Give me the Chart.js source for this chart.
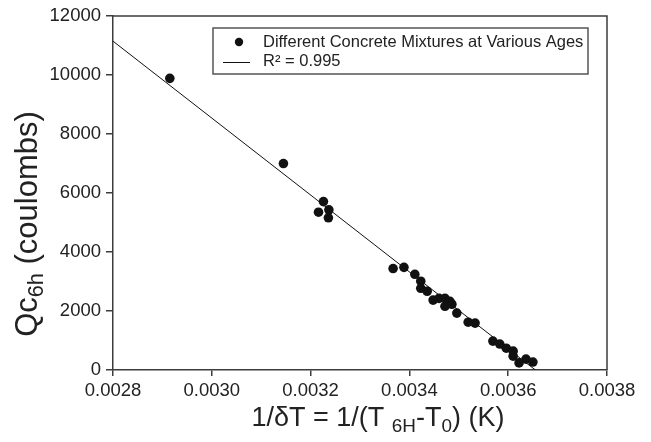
<!DOCTYPE html>
<html>
<head>
<meta charset="utf-8">
<script src="https://cdn.jsdelivr.net/npm/chart.js@4.4.0/dist/chart.umd.min.js"></script>
<style>
html, body { margin: 0; padding: 0; background: #fff; }
#wrap { width: 651px; height: 442px; }
</style>
</head>
<body>
<div id="wrap"><canvas id="grapik"></canvas></div>
<script>
// data
var xVals = [0.002915, 0.003145, 0.003226, 0.003216, 0.003237, 0.003236, 0.003367, 0.003389,
    0.003411, 0.003423, 0.003423, 0.003436, 0.003448, 0.00346, 0.003472, 0.003482, 0.003472,
    0.003486, 0.003496, 0.003519, 0.003533, 0.003569, 0.003583, 0.003596, 0.00361, 0.00361,
    0.003622, 0.003636, 0.00365];
var yVals = [9890, 7000, 5710, 5350, 5430, 5160, 3440, 3480,
    3245, 3010, 2770, 2670, 2370, 2430, 2430, 2330, 2160,
    2230, 1930, 1620, 1590, 980, 880, 740, 640, 470,
    240, 370, 270];

// regression line end points
var fitX = [0.0028, 0.003655];
var fitY = [11150, 0];

var xTicks = [0.0028, 0.0030, 0.0032, 0.0034, 0.0036, 0.0038];
var yTicks = [0, 2000, 4000, 6000, 8000, 10000, 12000];
var seriesLabels = ['Different Concrete Mixtures at Various Ages', 'R\u00b2 = 0.995'];

var FONT = "'Liberation Sans', Arial, sans-serif";
var AXIS = '#3c3c3c';

var points = xVals.map(function (x, i) { return { x: x, y: yVals[i] }; });
var fitLine = fitX.map(function (x, i) { return { x: x, y: fitY[i] }; });

// text with subscripts, parts = [[text, isSub], ...]
function drawParts(c, parts, size, x, y) {
    var total = 0;
    parts.forEach(function (p) {
        c.font = (p[1] ? size * 0.7 : size) + 'px ' + FONT;
        total += c.measureText(p[0]).width;
    });
    var px = x - total / 2;
    parts.forEach(function (p) {
        c.font = (p[1] ? size * 0.7 : size) + 'px ' + FONT;
        c.fillText(p[0], px, p[1] ? y + size * 0.3 : y);
        px += c.measureText(p[0]).width;
    });
}

var hiasan = {
    id: 'hiasan',
    afterDraw: function (chart) {
        var c = chart.ctx, a = chart.chartArea;
        c.save();

        c.strokeStyle = AXIS;
        c.lineWidth = 1.5;
        c.beginPath();
        c.moveTo(a.left, a.top);
        c.lineTo(a.right, a.top);
        c.lineTo(a.right, a.bottom);
        c.stroke();

        // legend box
        c.strokeStyle = '#555';
        c.lineWidth = 1.5;
        c.strokeRect(213, 28, 375, 46);
        c.fillStyle = '#111';
        c.beginPath();
        c.arc(239, 42, 4.2, 0, Math.PI * 2);
        c.fill();
        c.strokeStyle = '#111';
        c.lineWidth = 1;
        c.beginPath();
        c.moveTo(223, 62.5);
        c.lineTo(250, 62.5);
        c.stroke();
        c.fillStyle = '#222';
        c.font = '16.5px ' + FONT;
        c.textBaseline = 'middle';
        c.textAlign = 'left';
        c.fillText(seriesLabels[0], 263, 42);
        c.fillText(seriesLabels[1], 263, 61);

        // axis titles
        c.textBaseline = 'middle';
        drawParts(c, [['1/\u03b4T = 1/(T ', false], ['6H', true], ['-T', false], ['0', true], [') (K)', false]],
            27, 378, 419);

        c.translate(28, 224);
        c.rotate(-Math.PI / 2);
        drawParts(c, [['Qc', false], ['6h', true], [' (coulombs)', false]], 31, 0, 0);
        c.restore();
    }
};

var ctx = document.getElementById('grapik').getContext('2d');
var chart = new Chart(ctx, {
    type: 'scatter',
    data: {
        datasets: [{
            label: seriesLabels[0],
            data: points,
            backgroundColor: '#111',
            borderWidth: 0,
            pointRadius: 4.8,
            order: 1
        }, {
            label: seriesLabels[1],
            data: fitLine,
            showLine: true,
            borderColor: '#111',
            borderWidth: 1,
            pointRadius: 0,
            order: 2
        }]
    },
    options: {
        responsive: true,
        maintainAspectRatio: false,
        animation: false,
        layout: { padding: { left: 0, right: 44, top: 15, bottom: 0 } },
        plugins: {
            legend: { display: false },
            tooltip: { enabled: false }
        },
        scales: {
            x: {
                type: 'linear',
                min: 0.0028,
                max: 0.0038,
                afterBuildTicks: function (scale) {
                    scale.ticks = xTicks.map(function (v) { return { value: v }; });
                },
                afterFit: function (scale) { scale.height = 72; },
                ticks: {
                    color: '#222',
                    font: { family: FONT, size: 18.5 },
                    padding: 4,
                    maxRotation: 0,
                    callback: function (v) { return v.toFixed(4); }
                },
                grid: { drawOnChartArea: false, tickLength: 6, color: AXIS, lineWidth: 1.5 },
                border: { color: AXIS, width: 1.5 }
            },
            y: {
                min: 0,
                max: 12000,
                afterBuildTicks: function (scale) {
                    scale.ticks = yTicks.map(function (v) { return { value: v }; });
                },
                afterFit: function (scale) { scale.width = 113; },
                ticks: {
                    color: '#222',
                    font: { family: FONT, size: 18.5 },
                    padding: 5,
                    callback: function (v) { return String(v); }
                },
                grid: { drawOnChartArea: false, tickLength: 7, color: AXIS, lineWidth: 1.5 },
                border: { color: AXIS, width: 1.5 }
            }
        }
    },
    plugins: [hiasan]
});
</script>
</body>
</html>
